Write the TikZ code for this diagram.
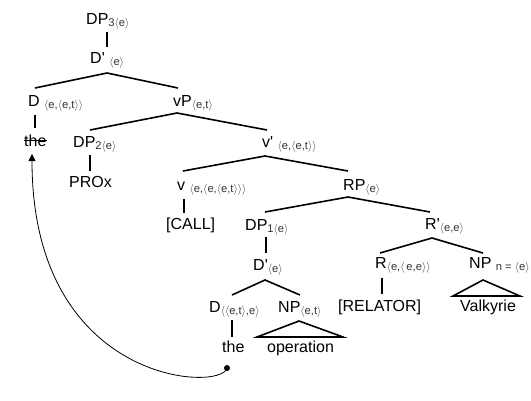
\documentclass[tikz,border=0pt]{standalone}
\usepackage{fontspec}
\setmainfont{Liberation Sans}[Ligatures=TeXOff]
\usetikzlibrary{arrows.meta}
\newcommand\ab[1]{$\langle$#1$\rangle$}
\newcommand\sbs[1]{\raisebox{-2.5pt}{\fontsize{11.2}{13}\selectfont\color{black!80}#1}}
\begin{document}
\begin{tikzpicture}[x=1pt,y=-1pt,
  lbl/.style={anchor=base west, inner sep=0pt, font=\fontsize{16}{19}\selectfont},
  edge/.style={line width=1.6pt},
  movearc/.style={line width=0.8pt, -{Triangle[length=7pt,width=7pt]}}]
\useasboundingbox (0,0) rectangle (531,400);
% labels
\node[lbl] (dp3) at (86,24) {DP\sbs{3\ab{e}}};
\node[lbl] (dbar3) at (90,63) {D' \sbs{\ab{e}}};
\node[lbl] (d1) at (28,106) {D \sbs{\ab{e,\ab{e,t}}}};
\node[lbl] (vp) at (173,106) {vP\sbs{\ab{e,t}}};
\node[lbl] (the1) at (24,146) {the};
\node[lbl] (dp2) at (73,147) {DP\sbs{2\ab{e}}};
\node[lbl] (prox) at (69,187) {PROx};
\node[lbl] (vbar) at (262,147) {v' \sbs{\ab{e,\ab{e,t}}}};
\node[lbl] (v) at (177,190) {v \sbs{\ab{e,\ab{e,\ab{e,t}}}}};
\node[lbl] (rp) at (343,190) {RP\sbs{\ab{e}}};
\node[lbl] (call) at (166,229) {[CALL]};
\node[lbl] (dp1) at (245,230) {DP\sbs{1\ab{e}}};
\node[lbl] (rbar) at (425,229) {R'\sbs{\ab{e,e}}};
\node[lbl] (dbar1) at (253,270) {D'\sbs{\ab{e}}};
\node[lbl] (r) at (375,268) {R\sbs{\ab{e,\ab{\,e,e}}}};
\node[lbl] (npn) at (469,268) {NP \sbs{n = \ab{e}}};
\node[lbl] (d2) at (209,312) {D\sbs{\ab{\ab{e,t},e}}};
\node[lbl] (npet) at (278,312) {NP\sbs{\ab{e,t}}};
\node[lbl] (relator) at (338,311) {[RELATOR]};
\node[lbl] (valk) at (460,311) {Valkyrie};
\node[lbl] (the2) at (222,352) {the};
\node[lbl] (oper) at (267,352) {operation};
% connector points
\coordinate (a1) at (107,32);  \coordinate (b1) at (107,47);
\coordinate (a2) at (107,73);  \coordinate (b2l) at (35,88);  \coordinate (b2r) at (178,88);
\coordinate (a3) at (35,115);  \coordinate (b3) at (35,128);
\coordinate (a4) at (177,113); \coordinate (b4l) at (90,130); \coordinate (b4r) at (267,130);
\coordinate (a5) at (90,155);  \coordinate (b5) at (90,171);
\coordinate (a6) at (265,156); \coordinate (b6l) at (183,171); \coordinate (b6r) at (348,171);
\coordinate (a7) at (184,199); \coordinate (b7) at (184,213);
\coordinate (a8) at (348,197); \coordinate (b8l) at (265,212); \coordinate (b8r) at (430,212);
\coordinate (a9) at (266,237); \coordinate (b9) at (266,253);
\coordinate (a10) at (265,280); \coordinate (b10l) at (232,295); \coordinate (b10r) at (300,295);
\coordinate (a11) at (432,238); \coordinate (b11l) at (380,253); \coordinate (b11r) at (483,253);
\coordinate (a12) at (382,278); \coordinate (b12) at (382,294);
\coordinate (a13) at (232,320); \coordinate (b13) at (232,337);
\coordinate (t1a) at (299,321); \coordinate (t1l) at (257,337); \coordinate (t1r) at (343,337);
\coordinate (t2a) at (483,280); \coordinate (t2l) at (453,296); \coordinate (t2r) at (520,296);
\coordinate (dot) at (227,368); \coordinate (tip) at (32,154);
% tree edges
\draw[edge] (a1) -- (b1);
\draw[edge] (b2l) -- (a2) -- (b2r);
\draw[edge] (a3) -- (b3);
\draw[edge] (b4l) -- (a4) -- (b4r);
\draw[edge] (a5) -- (b5);
\draw[edge] (b6l) -- (a6) -- (b6r);
\draw[edge] (a7) -- (b7);
\draw[edge] (b8l) -- (a8) -- (b8r);
\draw[edge] (a9) -- (b9);
\draw[edge] (b10l) -- (a10) -- (b10r);
\draw[edge] (b11l) -- (a11) -- (b11r);
\draw[edge] (a12) -- (b12);
\draw[edge] (a13) -- (b13);
\draw[edge, line join=miter] (t1l) -- (t1a) -- (t1r) -- cycle;
\draw[edge, line join=miter] (t2l) -- (t2a) -- (t2r) -- cycle;
% strike-through
\draw[line width=1.2pt] (the1.west) -- (the1.east);
% movement arc
\fill (dot) circle (3pt);
\draw[movearc] (dot) .. controls (222,392) and (32,385) .. (tip);
\end{tikzpicture}
\end{document}
